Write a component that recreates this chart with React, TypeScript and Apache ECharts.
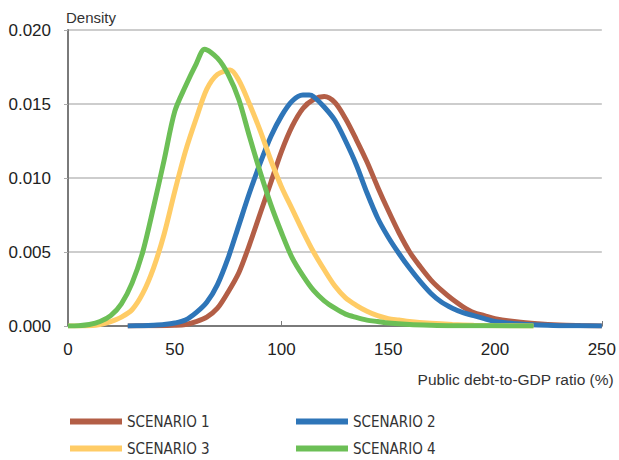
import React, { useEffect, useRef } from "react";
import * as echarts from "echarts";

const seriesNames = ["SCENARIO 1", "SCENARIO 2", "SCENARIO 3", "SCENARIO 4"];
const colors = ["#B35E46", "#2E75B8", "#FFCC66", "#6CBF56"];

const s1X = [28, 40, 50, 55, 60, 65, 70, 75, 80, 85, 90, 95, 100, 105, 110, 115, 120, 125, 130, 135, 140, 145, 150, 155, 160, 165, 170, 175, 180, 185, 190, 195, 200, 210, 220, 230, 240, 250];
const s1Y = [0, 0.00002, 0.00005, 0.0001, 0.0003, 0.0006, 0.0012, 0.0023, 0.0036, 0.0055, 0.0076, 0.0097, 0.0118, 0.0135, 0.0147, 0.0153, 0.0155, 0.0151, 0.0140, 0.0126, 0.0111, 0.0094, 0.0078, 0.0063, 0.0050, 0.0040, 0.0031, 0.0024, 0.0018, 0.0013, 0.0009, 0.0007, 0.0005, 0.00028, 0.00015, 0.00007, 0.00003, 0];

const s2X = [28, 35, 40, 45, 50, 55, 60, 65, 70, 75, 80, 85, 90, 95, 100, 105, 110, 113, 115, 120, 125, 130, 135, 140, 145, 150, 155, 160, 165, 170, 175, 180, 185, 190, 195, 200, 210, 220, 230, 250];
const s2Y = [0, 0.00002, 0.00005, 0.0001, 0.0002, 0.0004, 0.0009, 0.0016, 0.0028, 0.0046, 0.0068, 0.0090, 0.0110, 0.0128, 0.0142, 0.0152, 0.0156, 0.0156, 0.0155, 0.0148, 0.0139, 0.0125, 0.0109, 0.0090, 0.0073, 0.0060, 0.0049, 0.0039, 0.0030, 0.0022, 0.0016, 0.0012, 0.0009, 0.0007, 0.0005, 0.0003, 0.00015, 0.00006, 0.00002, 0];

const s3X = [0, 5, 10, 15, 20, 25, 30, 35, 40, 45, 50, 55, 60, 65, 70, 76, 80, 85, 90, 95, 100, 105, 110, 115, 120, 125, 130, 135, 140, 145, 150, 155, 160, 170, 180, 190, 200, 218];
const s3Y = [0, 0, 0.00002, 0.0001, 0.0003, 0.0006, 0.0011, 0.0022, 0.0039, 0.0062, 0.0091, 0.0118, 0.0140, 0.0160, 0.0170, 0.0173, 0.0166, 0.0150, 0.0132, 0.0112, 0.0094, 0.0079, 0.0064, 0.0050, 0.0038, 0.0027, 0.0019, 0.0014, 0.0010, 0.0007, 0.0005, 0.0004, 0.0003, 0.00018, 0.0001, 0.00005, 0.00002, 0];

const s4X = [0, 5, 10, 15, 20, 25, 30, 35, 40, 45, 50, 55, 60, 64, 70, 75, 80, 85, 90, 95, 100, 105, 110, 115, 120, 125, 130, 135, 140, 145, 150, 160, 170, 180, 200, 218];
const s4Y = [0, 0.00002, 0.0001, 0.0003, 0.0007, 0.0015, 0.0029, 0.0050, 0.0080, 0.0112, 0.0145, 0.0162, 0.0177, 0.0187, 0.0181, 0.0170, 0.0153, 0.0128, 0.0104, 0.0082, 0.0063, 0.0046, 0.0034, 0.0024, 0.0017, 0.0012, 0.0008, 0.00058, 0.0004, 0.0003, 0.0002, 0.0001, 0.00005, 0.00002, 0.00001, 0];

const allX = [s1X, s2X, s3X, s4X];
const allY = [s1Y, s2Y, s3Y, s4Y];

const xTickInterval = 50;
const yTickInterval = 0.005;
const yAxisTitle = "Density";
const xAxisTitle = "Public debt-to-GDP ratio (%)";

const legendPos = [
  { left: 70, top: 414 },
  { left: 296, top: 414 },
  { left: 70, top: 441 },
  { left: 296, top: 441 },
];

export default function App() {
  const ref = useRef<HTMLDivElement>(null);
  useEffect(() => {
    if (!ref.current) return;
    const chart = echarts.init(ref.current, null, { renderer: "svg" });
    const baseFont = "'Liberation Sans', Arial, sans-serif";
    const legendFont = "'Liberation Sans Narrow', 'DejaVu Sans Condensed', 'Liberation Sans', sans-serif";
    chart.setOption({
      animation: false,
      backgroundColor: "#ffffff",
      grid: { left: 68, right: 15, top: 30, bottom: 134, containLabel: false },
      legend: legendPos.map((p, i) => ({
        data: [seriesNames[i]],
        left: p.left,
        top: p.top,
        icon: "rect",
        itemWidth: 52,
        itemHeight: 6,
        itemGap: 5,
        padding: 0,
        selectedMode: false,
        textStyle: { fontFamily: legendFont, fontSize: 15, color: "#333", padding: [0, 0, 0, 0] },
      })),
      xAxis: {
        type: "value",
        min: 0,
        max: 250,
        interval: xTickInterval,
        axisLine: { show: true, lineStyle: { color: "#7a7a7a", width: 2 } },
        axisTick: { show: true, inside: true, length: 5, lineStyle: { color: "#7a7a7a", width: 1 } },
        axisLabel: { fontFamily: baseFont, fontSize: 17, color: "#222", margin: 15 },
        splitLine: { show: false },
      },
      yAxis: {
        type: "value",
        min: 0,
        max: 0.02,
        interval: yTickInterval,
        axisLine: { show: true, lineStyle: { color: "#7a7a7a", width: 2 } },
        axisTick: { show: true, inside: false, length: 4, lineStyle: { color: "#aaa", width: 1 } },
        axisLabel: {
          fontFamily: baseFont,
          fontSize: 17,
          color: "#222",
          margin: 17,
          formatter: (v: number) => v.toFixed(3),
        },
        splitLine: { show: true, lineStyle: { color: "#bdbdbd", width: 1.5 } },
      },
      graphic: [
        {
          type: "text",
          left: 66,
          top: 10,
          style: { text: yAxisTitle, fontFamily: baseFont, fontSize: 15, fill: "#333" },
        },
        {
          type: "text",
          right: 5,
          top: 371,
          style: { text: xAxisTitle, fontFamily: baseFont, fontSize: 15.5, fill: "#333" },
        },
      ],
      series: seriesNames.map((name, i) => ({
        name,
        type: "line",
        showSymbol: false,
        symbol: "none",
        smooth: 0.3,
        color: colors[i],
        lineStyle: { color: colors[i], width: 5 },
        z: 2 + i,
        data: allX[i].map((x, j) => [x, allY[i][j]]),
      })),
    });
    return () => chart.dispose();
  }, []);
  return <div ref={ref} style={{ width: 619, height: 460, position: "absolute", left: 0, top: 0 }} />;
}
